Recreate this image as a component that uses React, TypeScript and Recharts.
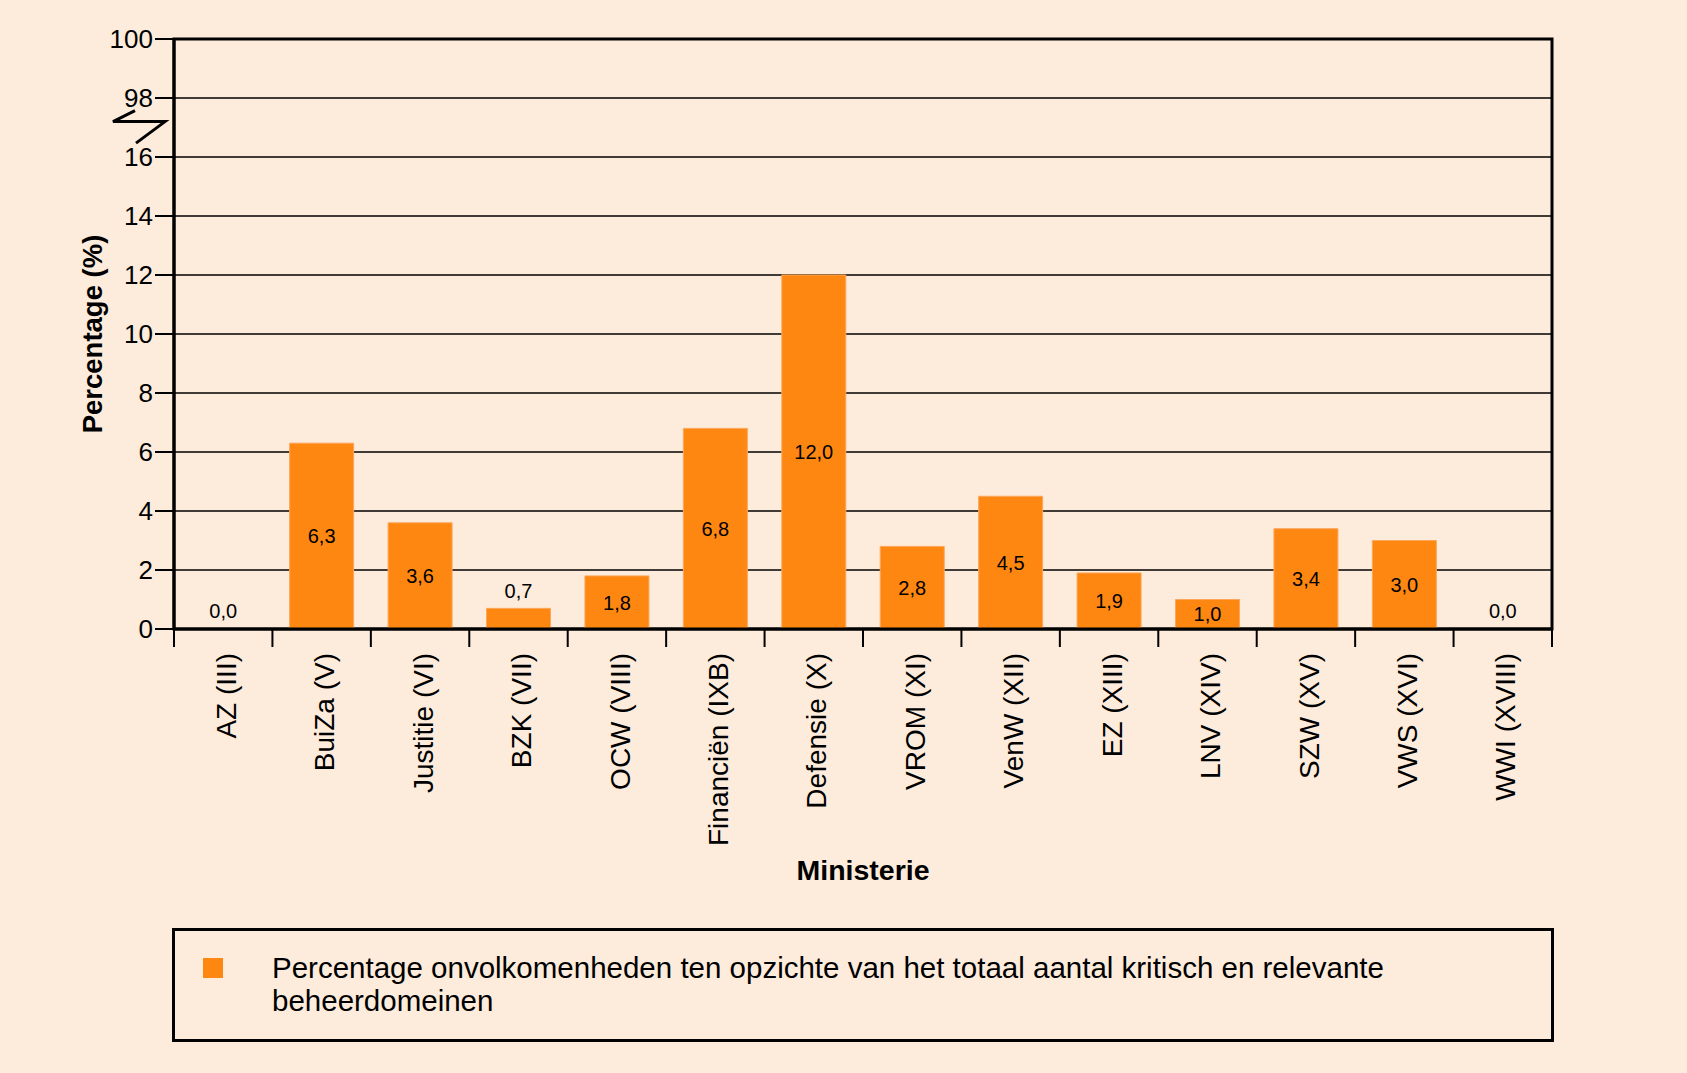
import {
  Bar,
  ComposedChart,
  CartesianGrid,
  Label,
  LabelList,
  Legend,
  Line,
  ReferenceArea,
  XAxis,
  YAxis,
} from "recharts";

const MINISTRIES = [
  "AZ (III)",
  "BuiZa (V)",
  "Justitie (VI)",
  "BZK (VII)",
  "OCW (VIII)",
  "Financiën (IXB)",
  "Defensie (X)",
  "VROM (XI)",
  "VenW (XII)",
  "EZ (XIII)",
  "LNV (XIV)",
  "SZW (XV)",
  "VWS (XVI)",
  "WWI (XVIII)",
];
const PERCENTAGES = [0.0, 6.3, 3.6, 0.7, 1.8, 6.8, 12.0, 2.8, 4.5, 1.9, 1.0, 3.4, 3.0, 0.0];

// Broken axis: 0..16 linear, then positions 18 and 20 carry the labels 98 and 100.
const Y_TICKS = [0, 2, 4, 6, 8, 10, 12, 14, 16, 18, 20];
const Y_TICK_LABELS = ["0", "2", "4", "6", "8", "10", "12", "14", "16", "98", "100"];
const GRID_VALUES = [2, 4, 6, 8, 10, 12, 14, 16, 18];
const BREAK_AT = 17.2;

const LEGEND_LABEL =
  "Percentage onvolkomenheden ten opzichte van het totaal aantal kritisch en relevante beheerdomeinen";

const BG = "#fdecdc";
const ORANGE = "#fe8711";
const FONT = '"Liberation Sans", Arial, sans-serif';

const WIDTH = 1687;
const HEIGHT = 1073;
const MARGIN = { top: 39, right: 135, bottom: 31, left: 0 };
const Y_AXIS_W = 174;
const X_AXIS_H = 299;
const LEGEND_H = 114;
const BAND = (WIDTH - MARGIN.right - MARGIN.left - Y_AXIS_W) / MINISTRIES.length;
const PLOT_BOTTOM = HEIGHT - MARGIN.bottom - LEGEND_H - X_AXIS_H;

const Y_TICK_SIZE = 19;
const Y_TICK_MARGIN = 2;
const X_TICK_SIZE = 18;
const X_TICK_MARGIN = 6;

const rows = MINISTRIES.map((name, i) => ({ name, value: PERCENTAGES[i] }));

const fmt = (v: number) => v.toFixed(1).replace(".", ",");

function YTick(props: any) {
  const { x, y, payload } = props;
  const axisX = x + Y_TICK_SIZE + Y_TICK_MARGIN;
  if (payload.value === BREAK_AT) {
    return (
      <polyline
        points={`${axisX - 39},${y - 11} ${axisX - 61},${y} ${axisX - 9},${y} ${axisX - 38},${y + 21.5}`}
        fill="none"
        stroke="#000"
        strokeWidth={3}
      />
    );
  }
  const label = Y_TICK_LABELS[Y_TICKS.indexOf(payload.value)];
  return (
    <g>
      <line x1={axisX - Y_TICK_SIZE} x2={axisX} y1={y} y2={y} stroke="#000" strokeWidth={2} />
      <text x={x} y={y} dy="0.36em" textAnchor="end" fontSize={26} fontFamily={FONT} fill="#000">
        {label}
      </text>
    </g>
  );
}

function XTick(props: any) {
  const { x, y, payload, index } = props;
  const axisY = y - X_TICK_SIZE - X_TICK_MARGIN;
  const half = BAND / 2;
  return (
    <g>
      <line x1={x - half} x2={x - half} y1={axisY} y2={axisY + X_TICK_SIZE} stroke="#000" strokeWidth={2} />
      {index === MINISTRIES.length - 1 && (
        <line x1={x + half} x2={x + half} y1={axisY} y2={axisY + X_TICK_SIZE} stroke="#000" strokeWidth={2} />
      )}
      <text
        x={x}
        y={y}
        dy="0.45em"
        transform={`rotate(-90, ${x}, ${y})`}
        textAnchor="end"
        fontSize={28}
        fontFamily={FONT}
        fill="#000"
      >
        {payload.value}
      </text>
    </g>
  );
}

// Labels sit mid-bar; tiny values (incl. 0,0) go just above the bar top.
function ValueLabel(props: any) {
  const { x, y, value } = props;
  const cy = value < 1 ? y - 18 : (y + PLOT_BOTTOM) / 2;
  return (
    <text x={x} y={cy} dy="0.36em" textAnchor="middle" fontSize={20} fontFamily={FONT} fill="#000">
      {fmt(value)}
    </text>
  );
}

function LegendBox(props: any) {
  const item = props.payload?.find((p: any) => p.type !== "none");
  if (!item) return null;
  return (
    <div
      style={{
        boxSizing: "border-box",
        width: 1382,
        height: LEGEND_H,
        border: "3px solid #000",
        position: "relative",
        fontFamily: FONT,
      }}
    >
      <span
        style={{ position: "absolute", left: 28, top: 27, width: 20, height: 20, background: item.color }}
      />
      <div
        style={{
          position: "absolute",
          left: 97,
          top: 20,
          width: 1270,
          fontSize: 29.5,
          lineHeight: "33px",
          color: "#000",
          textAlign: "left",
        }}
      >
        {item.value}
      </div>
    </div>
  );
}

export default function App() {
  return (
    <div
      style={{ position: "absolute", left: 0, top: 0, width: WIDTH, height: HEIGHT, background: BG, fontFamily: FONT }}
    >
      <ComposedChart width={WIDTH} height={HEIGHT} data={rows} margin={MARGIN} barCategoryGap="17.5%">
        <CartesianGrid vertical={false} horizontalValues={GRID_VALUES} stroke="#000" strokeWidth={1.5} />
        <XAxis
          dataKey="name"
          interval={0}
          height={X_AXIS_H}
          tickLine={false}
          tickSize={X_TICK_SIZE}
          tickMargin={X_TICK_MARGIN}
          tick={<XTick />}
          axisLine={{ stroke: "#000", strokeWidth: 3 }}
        >
          <Label
            content={(p: any) => (
              <text
                x={p.viewBox.x + p.viewBox.width / 2}
                y={p.viewBox.y + 251}
                textAnchor="middle"
                fontSize={28.5}
                fontWeight="bold"
                fontFamily={FONT}
                fill="#000"
              >
                Ministerie
              </text>
            )}
          />
        </XAxis>
        <YAxis
          width={Y_AXIS_W}
          domain={[0, 20]}
          ticks={[...Y_TICKS, BREAK_AT]}
          interval={0}
          tickLine={false}
          tickSize={Y_TICK_SIZE}
          tickMargin={Y_TICK_MARGIN}
          tick={<YTick />}
          axisLine={{ stroke: "#000", strokeWidth: 3 }}
        >
          <Label
            content={(p: any) => {
              const cx = p.viewBox.x + 92;
              const cy = p.viewBox.y + p.viewBox.height / 2;
              return (
                <text
                  x={cx}
                  y={cy}
                  dy="0.36em"
                  transform={`rotate(-90, ${cx}, ${cy})`}
                  textAnchor="middle"
                  fontSize={27.5}
                  fontWeight="bold"
                  fontFamily={FONT}
                  fill="#000"
                >
                  Percentage (%)
                </text>
              );
            }}
          />
        </YAxis>
        <ReferenceArea y1={0} y2={20} fill="none" fillOpacity={0} stroke="#000" strokeWidth={3} />
        <Bar
          dataKey="value"
          name={LEGEND_LABEL}
          fill={ORANGE}
          stroke="#fca75c"
          strokeWidth={1}
          isAnimationActive={false}
        />
        {/* invisible carrier for the value labels, so 0,0 gets one too */}
        <Line
          dataKey="value"
          stroke="none"
          dot={false}
          activeDot={false}
          legendType="none"
          isAnimationActive={false}
        >
          <LabelList dataKey="value" content={<ValueLabel />} />
        </Line>
        <Legend
          verticalAlign="bottom"
          content={<LegendBox />}
          wrapperStyle={{ left: 172, width: 1382, bottom: MARGIN.bottom }}
        />
      </ComposedChart>
    </div>
  );
}
